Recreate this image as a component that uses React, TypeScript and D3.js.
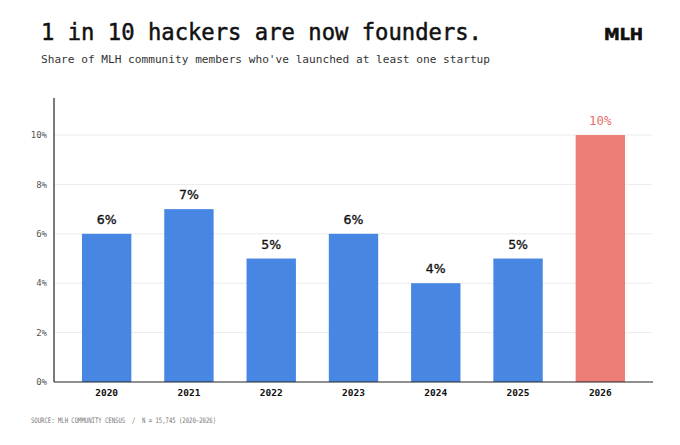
import React from 'react';
import * as d3 from 'd3';

const years = ['2020', '2021', '2022', '2023', '2024', '2025', '2026'];
const shares = [6, 7, 5, 6, 4, 5, 10];
const yTicks = [0, 2, 4, 6, 8, 10];
const highlightYear = '2026';

const W = 680;
const H = 445;
const MONO = '"DejaVu Sans Mono", "Liberation Mono", monospace';
const SANS = '"DejaVu Sans", "Noto Sans", sans-serif';

const App: React.FC = () => {
  const margin = { left: 54, right: 27, top: 98, bottom: 63 };
  const x = d3.scaleBand<string>()
    .domain(years)
    .range([margin.left, W - margin.right])
    .paddingInner(0.4)
    .paddingOuter(0.34);
  const y = d3.scaleLinear().domain([0, 11.5]).range([H - margin.bottom, margin.top]);

  const blue = '#4786e2';
  const red = '#ed7d77';

  return (
    <div style={{ position: 'absolute', left: 0, top: 0 }}>
      <svg width={W} height={H} style={{ display: 'block', background: '#fff' }}>
        {/* header */}
        <text x={41} y={40} fontFamily={MONO} fontSize={23} fontWeight={400} fill="#111" stroke="#111" strokeWidth={0.5}
          textLength={441} lengthAdjust="spacingAndGlyphs">
          1 in 10 hackers are now founders.
        </text>
        <text x={41} y={63} fontFamily={MONO} fontSize={11} fill="#333" textLength={449} lengthAdjust="spacingAndGlyphs">
          Share of MLH community members who've launched at least one startup
        </text>
        <text x={643} y={40} textAnchor="end" fontFamily={SANS} fontSize={16} fontWeight={900} fill="#111"
          stroke="#111" strokeWidth={0.6} textLength={39} lengthAdjust="spacingAndGlyphs">
          MLH
        </text>

        {/* grid */}
        {yTicks.filter(t => t > 0).map(t => (
          <line key={t} x1={margin.left} x2={W - margin.right - 1} y1={y(t)} y2={y(t)} stroke="#ececec" strokeWidth={1} />
        ))}

        {/* y tick labels */}
        {yTicks.map(t => (
          <text key={t} x={47} y={y(t)} dy="0.35em" textAnchor="end" fontFamily={MONO} fontSize={9} fill="#555">
            {t}%
          </text>
        ))}

        {/* bars */}
        {years.map((yr, i) => (
          <rect
            key={yr}
            x={x(yr)}
            y={y(shares[i])}
            width={x.bandwidth()}
            height={y(0) - y(shares[i])}
            fill={yr === highlightYear ? red : blue}
          />
        ))}

        {/* value labels */}
        {years.map((yr, i) => (
          <text
            key={yr}
            x={(x(yr) ?? 0) + x.bandwidth() / 2}
            y={y(shares[i]) - 10}
            textAnchor="middle"
            fontFamily={yr === highlightYear ? MONO : SANS}
            fontSize={12.5}
            fontWeight={400}
            fill={yr === highlightYear ? '#e8706b' : '#111'}
            stroke={yr === highlightYear ? 'none' : '#111'}
            strokeWidth={0.35}
          >
            {shares[i]}%
          </text>
        ))}

        {/* axes */}
        <line x1={margin.left} x2={margin.left} y1={margin.top} y2={y(0)} stroke="#222" strokeWidth={1.2} />
        <line x1={margin.left} x2={W - margin.right} y1={y(0)} y2={y(0)} stroke="#222" strokeWidth={1.2} />

        {/* x labels */}
        {years.map(yr => (
          <text
            key={yr}
            x={(x(yr) ?? 0) + x.bandwidth() / 2}
            y={396}
            textAnchor="middle"
            fontFamily={MONO}
            fontSize={9.5}
            fontWeight={700}
            fill="#111"
          >
            {yr}
          </text>
        ))}

        {/* source */}
        <text x={31} y={423} fontFamily={MONO} fontSize={7.5} fill="#777" textLength={185} lengthAdjust="spacingAndGlyphs" xmlSpace="preserve">
          SOURCE: MLH COMMUNITY CENSUS  /  N = 15,745 (2020–2026)
        </text>
      </svg>
    </div>
  );
};

export default App;
